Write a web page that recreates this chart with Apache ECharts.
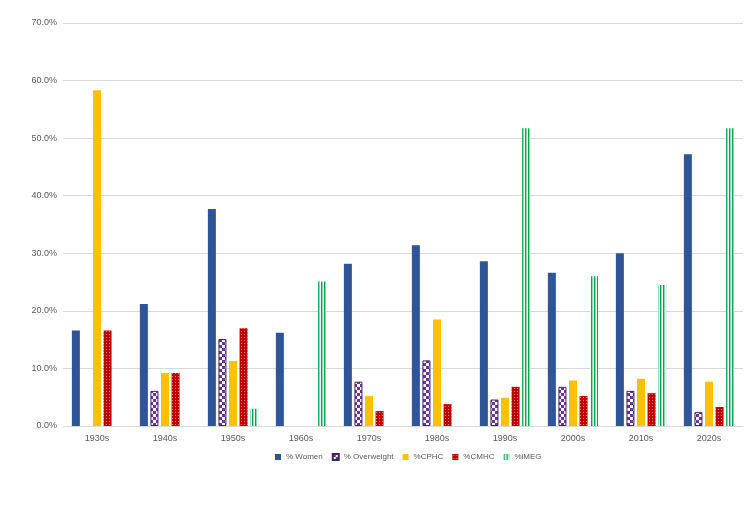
<!DOCTYPE html>
<html>
<head>
<meta charset="utf-8">
<script src="https://cdn.jsdelivr.net/npm/echarts@6/dist/echarts.min.js"></script>
<style>
  html, body { margin: 0; padding: 0; background: #fff; }
  #chart { width: 750px; height: 519px; }
</style>
</head>
<body>
<div id="chart"></div>
<script>
const decades = ['1930s', '1940s', '1950s', '1960s', '1970s', '1980s', '1990s', '2000s', '2010s', '2020s'];
const women = [16.6, 21.2, 37.7, 16.2, 28.2, 31.4, 28.6, 26.6, 30.0, 47.2];
const overweight = [null, 6.1, 15.1, null, 7.7, 11.4, 4.6, 6.8, 6.1, 2.4];
const cphc = [58.3, 9.2, 11.3, null, 5.2, 18.5, 4.9, 7.9, 8.2, 7.7];
const cmhc = [16.6, 9.2, 17.0, null, 2.6, 3.8, 6.8, 5.2, 5.7, 3.3];
const imeg = [null, null, 3.0, 25.1, null, null, 51.7, 26.0, 24.5, 51.7];
const yTicks = [0, 10, 20, 30, 40, 50, 60, 70];

// small canvas patterns for the fills
function makePattern(w, h, draw) {
  const c = document.createElement('canvas');
  c.width = w; c.height = h;
  draw(c.getContext('2d'));
  return { image: c, repeat: 'repeat' };
}
const checker = makePattern(6, 6, ctx => {
  ctx.fillStyle = '#ffffff'; ctx.fillRect(0, 0, 6, 6);
  ctx.fillStyle = '#7030a0';
  ctx.fillRect(0, 0, 3, 3); ctx.fillRect(3, 3, 3, 3);
});
const dots = makePattern(3, 3, ctx => {
  ctx.fillStyle = '#c00000'; ctx.fillRect(0, 0, 3, 3);
  ctx.fillStyle = '#f08080'; ctx.fillRect(1, 1, 1, 1);
});
const stripes = makePattern(3, 3, ctx => {
  ctx.fillStyle = '#ffffff'; ctx.fillRect(0, 0, 3, 3);
  ctx.fillStyle = '#8fd8ae'; ctx.fillRect(1, 0, 1, 3);
  ctx.fillStyle = '#00a84c'; ctx.fillRect(0, 0, 1, 3);
});

const chart = echarts.init(document.getElementById('chart'));
const barW = 8;
const option = {
  animation: false,
  textStyle: { fontFamily: 'Liberation Sans, Arial, sans-serif' },
  grid: { left: 63, right: 7, top: 23, bottom: 93 },
  legend: {
    top: 448,
    left: 270,
    icon: 'rect',
    itemWidth: 6,
    itemHeight: 6,
    itemGap: 9,
    textStyle: { fontSize: 8, color: '#595959' },
    data: ['% Women', '% Overweight', '%CPHC', '%CMHC', '%iMEG']
  },
  xAxis: {
    type: 'category',
    data: decades,
    axisLine: { lineStyle: { color: '#d9d9d9' } },
    axisTick: { show: false },
    axisLabel: { fontSize: 9, color: '#595959', margin: 8 }
  },
  yAxis: {
    type: 'value',
    min: 0,
    max: 70,
    interval: 10,
    axisLine: { show: false },
    axisTick: { show: false },
    splitLine: { lineStyle: { color: '#d9d9d9' } },
    axisLabel: {
      fontSize: 9,
      color: '#595959',
      margin: 6,
      formatter: v => yTicks.includes(v) ? v.toFixed(1) + '%' : ''
    }
  },
  series: [
    { name: '% Women', type: 'bar', barWidth: barW, barGap: '32%', data: women,
      itemStyle: { color: '#2f5597' } },
    { name: '% Overweight', type: 'bar', barWidth: barW, barGap: '32%', data: overweight,
      itemStyle: { color: checker, borderColor: '#3a2660', borderWidth: 1 } },
    { name: '%CPHC', type: 'bar', barWidth: barW, barGap: '32%', data: cphc,
      itemStyle: { color: '#ffc000' } },
    { name: '%CMHC', type: 'bar', barWidth: barW, barGap: '32%', data: cmhc,
      itemStyle: { color: dots } },
    { name: '%iMEG', type: 'bar', barWidth: barW, barGap: '32%', data: imeg,
      itemStyle: { color: stripes } }
  ]
};
chart.setOption(option);
</script>
</body>
</html>
